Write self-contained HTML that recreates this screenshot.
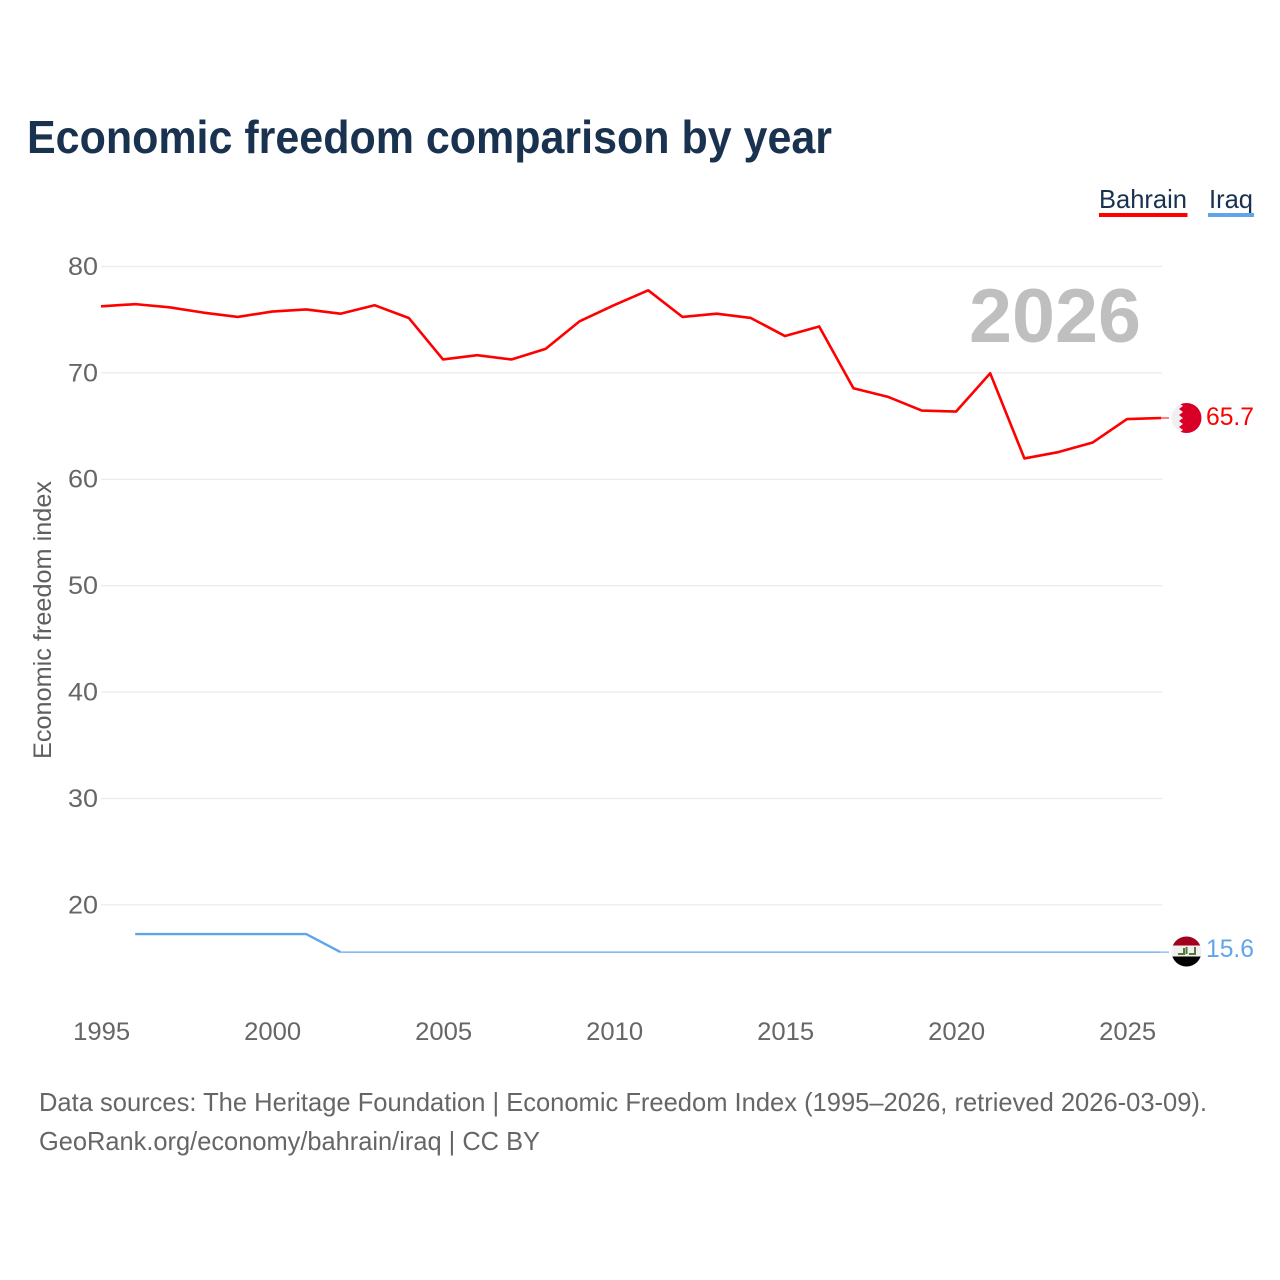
<!DOCTYPE html>
<html lang="en">
<head>
<meta charset="utf-8">
<title>Economic freedom comparison by year</title>
<style>
html,body{margin:0;padding:0;background:#fff;width:1280px;height:1280px;overflow:hidden}
svg{display:block;font-family:"Liberation Sans",sans-serif}
</style>
</head>
<body>
<svg id="chart" xmlns="http://www.w3.org/2000/svg" width="1280" height="1280" viewBox="0 0 1280 1280">
  <defs>
    <clipPath id="flag-clip-b"><circle cx="1186.5" cy="418" r="15"/></clipPath>
    <clipPath id="flag-clip-i"><circle cx="1186.5" cy="951.5" r="15"/></clipPath>
  </defs>
  <text x="27" y="153" font-size="46" font-weight="700" fill="#18324f" textLength="805" lengthAdjust="spacingAndGlyphs">Economic freedom comparison by year</text>

  <g>
    <g>
      <text x="1099" y="208" font-size="26" fill="#18324f" textLength="88" lengthAdjust="spacingAndGlyphs">Bahrain</text>
      <rect x="1099" y="213" width="88.5" height="4" fill="#ff0000"/>
    </g>
    <g>
      <text x="1209" y="208" font-size="26" fill="#18324f" textLength="44" lengthAdjust="spacingAndGlyphs">Iraq</text>
      <rect x="1208" y="213" width="46" height="4" fill="#60a5ec"/>
    </g>
  </g>

  <g id="grid"></g>
  <g id="yticks"></g>
  <g id="xticks"></g>

  <text transform="translate(51,759) rotate(-90)" font-size="25" fill="#5f5f5f" textLength="278" lengthAdjust="spacingAndGlyphs">Economic freedom index</text>

  <text x="969" y="342" font-size="76" font-weight="700" fill="#bfbfbf" textLength="172" lengthAdjust="spacingAndGlyphs">2026</text>

  <g id="series"></g>

  <g clip-path="url(#flag-clip-b)">
    <rect x="1171" y="403" width="31" height="30" fill="#f0f0f0"/>
    <polygon fill="#d80027" points="1202,403 1179,403 1183,406 1179,409 1183,412 1179,415 1183,418 1179,421 1183,424 1179,427 1183,430 1179,433 1202,433"/>
  </g>
  <text x="1206" y="425" font-size="25" fill="#ff0000" textLength="48" lengthAdjust="spacingAndGlyphs">65.7</text>

  <g clip-path="url(#flag-clip-i)">
    <rect x="1171" y="936" width="31" height="31" fill="#f0f0f0"/>
    <rect x="1171" y="936" width="31" height="9.5" fill="#a2001d"/>
    <rect x="1171" y="956.5" width="31" height="11" fill="#000"/>
    <path d="M1178 954h6v-6M1186.5 954v-7M1189 954h6v-7" fill="none" stroke="#547a35" stroke-width="2"/>
  </g>
  <text x="1206" y="957" font-size="25" fill="#60a5ec" textLength="48" lengthAdjust="spacingAndGlyphs">15.6</text>

  <g font-size="26" fill="#666666">
    <text x="39" y="1111" textLength="1168" lengthAdjust="spacingAndGlyphs">Data sources: The Heritage Foundation | Economic Freedom Index (1995–2026, retrieved 2026-03-09).</text>
    <text x="39" y="1150" textLength="501" lengthAdjust="spacingAndGlyphs">GeoRank.org/economy/bahrain/iraq | CC BY</text>
  </g>
</svg>
<script>
const years = [1995,1996,1997,1998,1999,2000,2001,2002,2003,2004,2005,2006,2007,2008,2009,2010,2011,2012,2013,2014,2015,2016,2017,2018,2019,2020,2021,2022,2023,2024,2025,2026];
const bahrainValues = [76.3,76.5,76.2,75.7,75.3,75.8,76.0,75.6,76.4,75.2,71.3,71.7,71.3,72.3,74.9,76.4,77.8,75.3,75.6,75.2,73.5,74.4,68.6,67.8,66.5,66.4,70.0,62.0,62.6,63.5,65.7,65.8];
const iraqValues = [null,17.3,17.3,17.3,17.3,17.3,17.3,15.6,15.6,15.6,15.6,15.6,15.6,15.6,15.6,15.6,15.6,15.6,15.6,15.6,15.6,15.6,15.6,15.6,15.6,15.6,15.6,15.6,15.6,15.6,15.6,15.6];
const yTickLabels = [20,30,40,50,60,70,80];
const xTickLabels = [1995,2000,2005,2010,2015,2020,2025];

const NS = 'http://www.w3.org/2000/svg';
const xScale = function (year) { return 101 + (year - 1995) * 34.2; };
const yScale = function (value) { return 266.9 + (80 - value) * 10.64; };
const connectorEndX = 1169;

function make(tag, parent) {
  const el = document.createElementNS(NS, tag);
  parent.appendChild(el);
  return el;
}

const grid = document.getElementById('grid');
const yticks = document.getElementById('yticks');
const xticks = document.getElementById('xticks');
const series = document.getElementById('series');

yTickLabels.forEach(function (tick) {
  const line = make('line', grid);
  
  
  line.setAttribute('x1', 101);
  line.setAttribute('x2', 1162);
  line.setAttribute('y1', yScale(tick) - 0.4);
  line.setAttribute('y2', yScale(tick) - 0.4);
  line.setAttribute('stroke', '#ebebeb');
  line.setAttribute('stroke-width', '1.3');

  const label = make('text', yticks);
  
  
  label.setAttribute('x', 98);
  label.setAttribute('y', yScale(tick) + 8);
  label.setAttribute('text-anchor', 'end');
  label.setAttribute('font-size', '25');
  label.setAttribute('fill', '#666666');
  label.setAttribute('textLength', '30');
  label.setAttribute('lengthAdjust', 'spacingAndGlyphs');
  label.textContent = tick;
});

xTickLabels.forEach(function (tick) {
  const label = make('text', xticks);
  
  
  label.setAttribute('x', xScale(tick) + 0.7);
  label.setAttribute('y', 1040);
  label.setAttribute('text-anchor', 'middle');
  label.setAttribute('font-size', '25');
  label.setAttribute('fill', '#666666');
  label.setAttribute('textLength', '57');
  label.setAttribute('lengthAdjust', 'spacingAndGlyphs');
  label.textContent = tick;
});

function pointsFor(values, from, to) {
  const pts = [];
  values.forEach(function (v, i) {
    if (v !== null && i >= from && i <= to) {
      pts.push(xScale(years[i]).toFixed(2) + ',' + yScale(v).toFixed(2));
    }
  });
  return pts.join(' ');
}

const lastIndex = years.length - 1;

const bahrainLine = make('polyline', series);


bahrainLine.setAttribute('points', pointsFor(bahrainValues, 0, lastIndex));
bahrainLine.setAttribute('fill', 'none');
bahrainLine.setAttribute('stroke', '#ff0000');
bahrainLine.setAttribute('stroke-width', '2.6');
bahrainLine.setAttribute('stroke-linejoin', 'round');

const bahrainConnector = make('line', series);


bahrainConnector.setAttribute('x1', xScale(years[lastIndex]));
bahrainConnector.setAttribute('x2', connectorEndX);
bahrainConnector.setAttribute('y1', yScale(bahrainValues[lastIndex]));
bahrainConnector.setAttribute('y2', yScale(bahrainValues[lastIndex]));
bahrainConnector.setAttribute('stroke', '#ff0000');
bahrainConnector.setAttribute('stroke-width', '1');

const iraqLineEarly = make('polyline', series);


iraqLineEarly.setAttribute('points', pointsFor(iraqValues, 0, 7));
iraqLineEarly.setAttribute('fill', 'none');
iraqLineEarly.setAttribute('stroke', '#60a5ec');
iraqLineEarly.setAttribute('stroke-width', '2.4');
iraqLineEarly.setAttribute('stroke-linejoin', 'round');

const iraqLineLate = make('polyline', series);


iraqLineLate.setAttribute('points', pointsFor(iraqValues, 7, lastIndex));
iraqLineLate.setAttribute('fill', 'none');
iraqLineLate.setAttribute('stroke', '#60a5ec');
iraqLineLate.setAttribute('stroke-width', '1.2');

const iraqConnector = make('line', series);


iraqConnector.setAttribute('x1', xScale(years[lastIndex]));
iraqConnector.setAttribute('x2', connectorEndX);
iraqConnector.setAttribute('y1', yScale(iraqValues[lastIndex]));
iraqConnector.setAttribute('y2', yScale(iraqValues[lastIndex]));
iraqConnector.setAttribute('stroke', '#60a5ec');
iraqConnector.setAttribute('stroke-width', '1');
</script>
</body>
</html>
